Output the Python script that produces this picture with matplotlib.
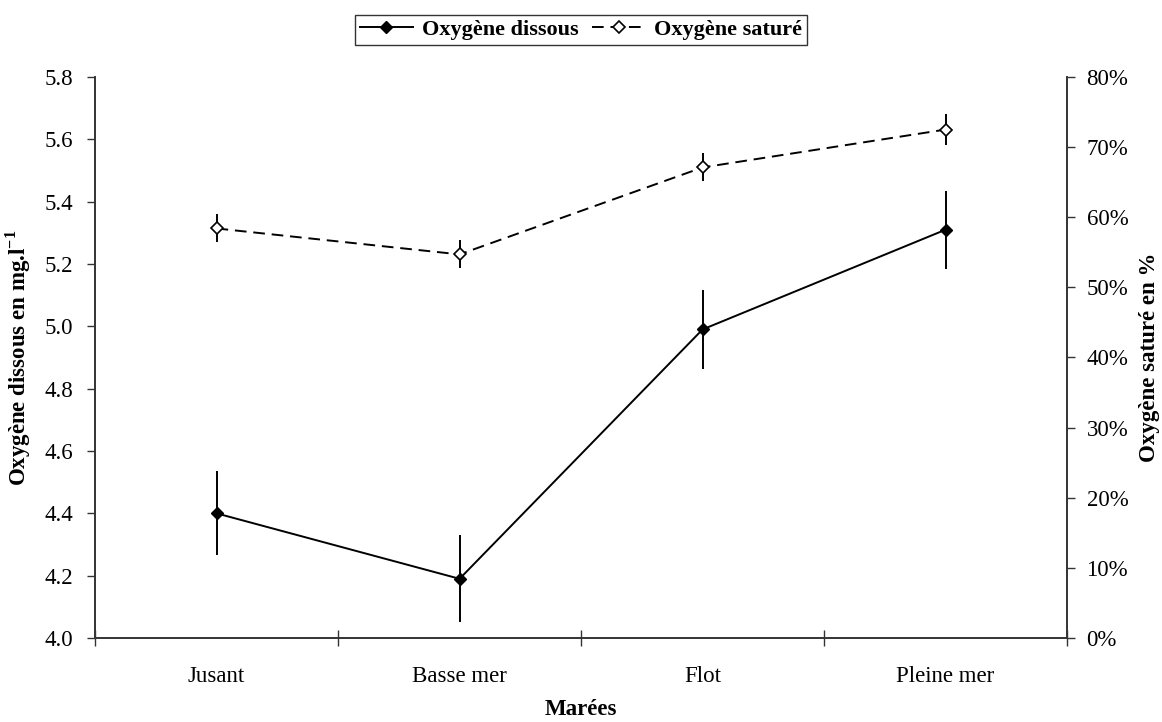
import matplotlib
matplotlib.use("Agg")
import matplotlib.pyplot as plt
from matplotlib.lines import Line2D
from matplotlib.ticker import FuncFormatter, FixedLocator

plt.rcParams['font.family'] = ['Liberation Serif', 'DejaVu Serif']
plt.rcParams['mathtext.fontset'] = 'custom'
plt.rcParams['mathtext.rm'] = 'Liberation Serif'
plt.rcParams['mathtext.bf'] = 'Liberation Serif:bold'

# Tidal phases and measurements
marees = ["Jusant", "Basse mer", "Flot", "Pleine mer"]
oxygene_dissous = [4.40, 4.19, 4.99, 5.31]          # mg/l
oxygene_dissous_err = [0.135, 0.14, 0.127, 0.125]
oxygene_sature = [58.4, 54.7, 67.1, 72.5]            # %
oxygene_sature_err = [2.0, 2.0, 2.0, 2.2]

left_ticks = [4.0, 4.2, 4.4, 4.6, 4.8, 5.0, 5.2, 5.4, 5.6, 5.8]
right_ticks = [0, 10, 20, 30, 40, 50, 60, 70, 80]

FS = 16.5

fig = plt.figure(figsize=(11.62, 7.22), dpi=100)
ax = fig.add_axes([0.0818, 0.1163, 0.8365, 0.7771])
ax2 = ax.twinx()

x = [i + 0.5 for i in range(len(marees))]
spine_color = "#333333"

ax.errorbar(x, oxygene_dissous, yerr=oxygene_dissous_err, color="black",
            lw=1.4, marker="D", markersize=6.5, markerfacecolor="black",
            elinewidth=1.4, capsize=0, zorder=3)
ax2.errorbar(x, oxygene_sature, yerr=oxygene_sature_err, color="black",
             lw=1.4, linestyle=(0, (6, 3.5)), marker="D", markersize=6.5,
             markerfacecolor="white", markeredgewidth=1.2,
             elinewidth=1.4, capsize=0, zorder=3)

ax.set_xlim(0, len(marees))
ax.set_ylim(4.0, 5.8)
ax2.set_ylim(0, 80)

ax.set_yticks(left_ticks)
ax.yaxis.set_major_formatter(FuncFormatter(lambda v, p: f"{v:.1f}"))
ax2.set_yticks(right_ticks)
ax2.yaxis.set_major_formatter(FuncFormatter(lambda v, p: f"{v:.0f}%"))

# Category boundaries as crossing ticks, labels at category centres
ax.xaxis.set_major_locator(FixedLocator(list(range(len(marees) + 1))))
ax.set_xticklabels([])
ax.xaxis.set_minor_locator(FixedLocator(x))
ax.set_xticklabels(marees, minor=True)
ax.tick_params(axis="x", which="major", direction="inout", length=11,
               width=1.0, color=spine_color)
ax.tick_params(axis="x", which="minor", length=0, pad=20, labelsize=FS)
ax.tick_params(axis="y", direction="out", length=6, width=1.0,
               color=spine_color, pad=10, labelsize=FS)
ax2.tick_params(axis="y", direction="out", length=6, width=1.0,
                color=spine_color, pad=8, labelsize=FS)

for a in (ax, ax2):
    a.spines["top"].set_visible(False)
    for side in ("left", "right", "bottom"):
        a.spines[side].set_color(spine_color)
        a.spines[side].set_linewidth(1.2)

ax.set_ylabel(r"Oxygène dissous en mg.l$^{\mathbf{-1}}$", fontsize=FS,
              fontweight="bold", labelpad=8)
ax2.set_ylabel("Oxygène saturé en %", fontsize=FS, fontweight="bold",
               labelpad=8)
ax.set_xlabel("Marées", fontsize=FS, fontweight="bold", labelpad=9)

handles = [
    Line2D([], [], color="black", lw=1.4, marker="D", markersize=6,
           markerfacecolor="black"),
    Line2D([], [], color="black", lw=1.4, linestyle=(0, (6, 3.5)), marker="D",
           markersize=6, markerfacecolor="white", markeredgewidth=1.2),
]
leg = fig.legend(handles, ["Oxygène dissous", "Oxygène saturé"], ncol=2,
                 loc="center", bbox_to_anchor=(581 / 1162, 1 - 30 / 722),
                 frameon=True, fancybox=False, edgecolor="black",
                 prop={"size": 16, "weight": "bold"}, handlelength=2.4,
                 handletextpad=0.4, columnspacing=0.6, borderpad=0.2,
                 borderaxespad=0)
leg.get_frame().set_linewidth(1.0)

fig.savefig("out.png", dpi=100)
